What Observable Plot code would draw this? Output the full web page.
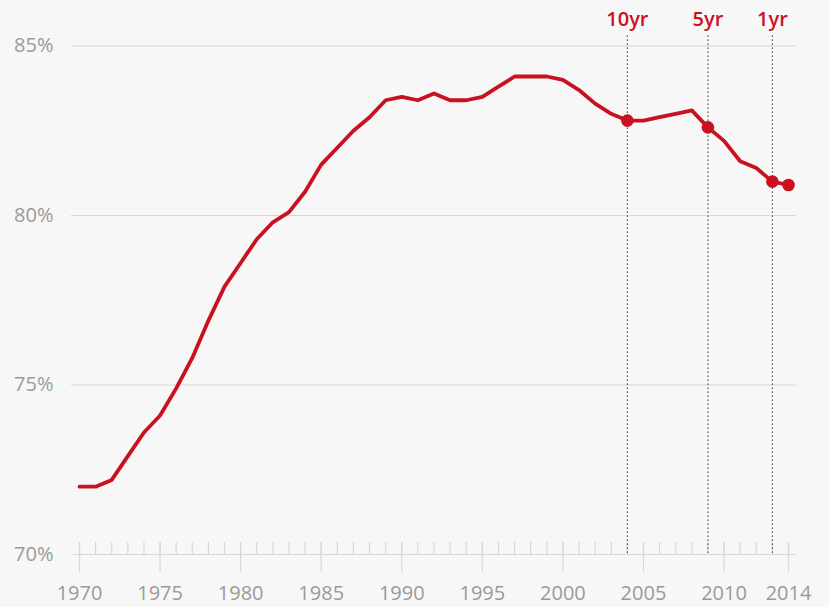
<!DOCTYPE html>
<html>
<head>
<meta charset="utf-8">
<script src="https://cdn.jsdelivr.net/npm/d3@7"></script>
<script src="https://cdn.jsdelivr.net/npm/@observablehq/plot@0.6"></script>
<style>
  html, body { margin: 0; padding: 0; background: #f7f7f7; }
  #chart svg { display: block; background: #f7f7f7; }
</style>
</head>
<body>
<div id="chart"></div>
<script>
const years = [1970,1971,1972,1973,1974,1975,1976,1977,1978,1979,
               1980,1981,1982,1983,1984,1985,1986,1987,1988,1989,
               1990,1991,1992,1993,1994,1995,1996,1997,1998,1999,
               2000,2001,2002,2003,2004,2005,2006,2007,2008,2009,
               2010,2011,2012,2013,2014];
const values = [72.0,72.0,72.2,72.9,73.6,74.1,74.9,75.8,76.9,77.9,
                78.6,79.3,79.8,80.1,80.7,81.5,82.0,82.5,82.9,83.4,
                83.5,83.4,83.6,83.4,83.4,83.5,83.8,84.1,84.1,84.1,
                84.0,83.7,83.3,83.0,82.8,82.8,82.9,83.0,83.1,82.6,
                82.2,81.6,81.4,81.0,80.9];
const markerYears = [2004, 2009, 2013];
const markerLabels = ["10yr", "5yr", "1yr"];
const dotYears = [2004, 2009, 2013, 2014];
const gridValues = [75, 80, 85];
const yTicks = [70, 75, 80, 85];
const xLabelTicks = [1970, 1975, 1980, 1985, 1990, 1995, 2000, 2005, 2010, 2014];
const baseValue = 70;

const data = years.map((y, i) => ({year: y, value: values[i]}));
const dots = data.filter(d => dotYears.includes(d.year));
const markers = markerYears.map((y, i) => ({year: y, label: markerLabels[i]}));

const red = "#c9111f";
const grey = "#9a9a9a";
const gridColor = "#d8d8d8";

const chart = Plot.plot({
  width: 829,
  height: 607,
  marginLeft: 79,
  marginRight: 41,
  marginTop: 45.5,
  marginBottom: 53,
  style: {background: "#f7f7f7", fontFamily: "'Open Sans', sans-serif", fontSize: "20px", color: grey},
  x: {domain: [1970, 2014], label: null},
  y: {domain: [70, 85], label: null},
  marks: [
    Plot.ruleY(gridValues, {y: d => d, stroke: gridColor, strokeWidth: 1.2, insetLeft: -8, insetRight: -8}),
    Plot.ruleY([baseValue], {y: d => d, stroke: gridColor, strokeWidth: 1.2, insetLeft: -8, insetRight: -8}),
    Plot.ruleX(years, {x: d => d, y1: () => baseValue, y2: () => baseValue, insetTop: -12, stroke: gridColor, strokeWidth: 1.2}),
    Plot.ruleX(xLabelTicks, {x: d => d, y1: () => baseValue, y2: () => baseValue, insetTop: -12, insetBottom: -18, stroke: gridColor, strokeWidth: 1.2}),
    Plot.ruleX(markers, {x: "year", insetTop: -10, stroke: "#222", strokeWidth: 1.1, strokeDasharray: "1.2,2.8"}),
    Plot.text(markers, {x: "year", text: "label", frameAnchor: "top", lineAnchor: "middle", dy: -26, fill: red, fontSize: 20, fontWeight: 600}),
    Plot.axisY({ticks: yTicks, tickSize: 0, tickPadding: 26, tickFormat: d => d + "%", fill: grey, fontSize: 20, label: null}),
    Plot.axisX({ticks: xLabelTicks, tickSize: 0, tickPadding: 31, tickFormat: d => String(d), fill: grey, fontSize: 20, label: null}),
    Plot.line(data, {x: "year", y: "value", stroke: red, strokeWidth: 3.8, strokeLinejoin: "round"}),
    Plot.dot(dots, {x: "year", y: "value", r: 6.3, fill: red})
  ]
});
document.getElementById("chart").append(chart);
</script>
</body>
</html>
